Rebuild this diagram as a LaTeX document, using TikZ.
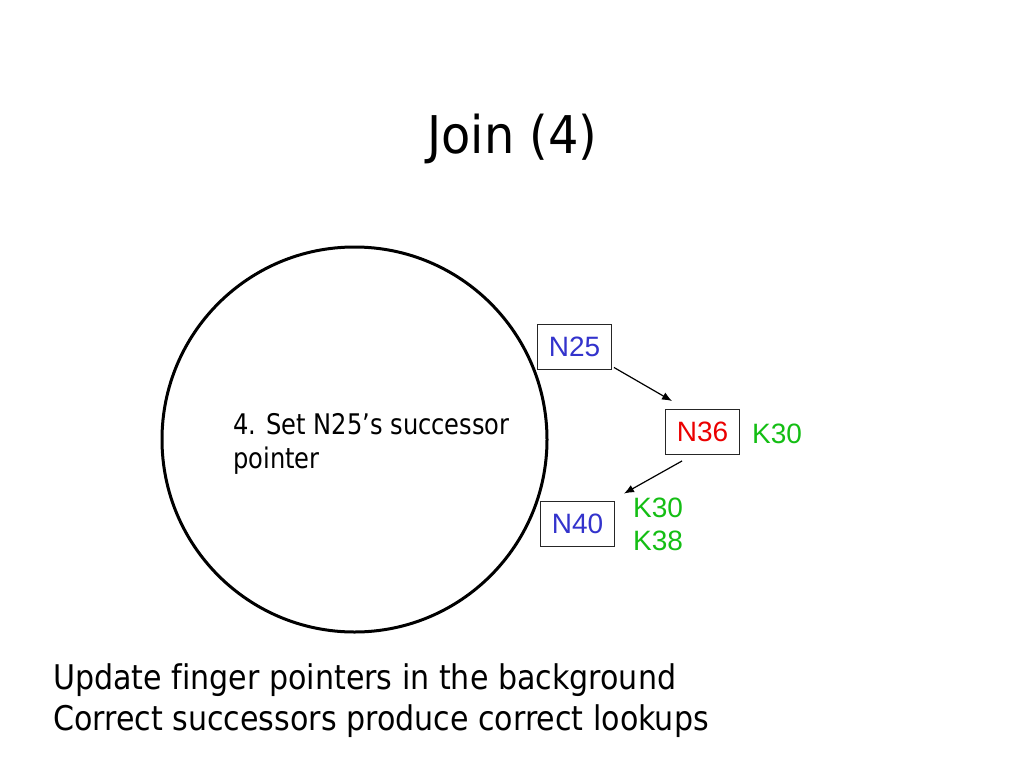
\documentclass[tikz,border=0pt]{standalone}
\usepackage{fontspec}
\usepackage{graphicx}
\setmainfont[Ligatures=NoCommon]{DejaVu Sans}
\newfontfamily\arialfont{Liberation Sans}
\usetikzlibrary{arrows.meta}
\definecolor{nblue}{RGB}{51,51,204}
\definecolor{nred}{RGB}{235,0,0}
\definecolor{kgreen}{RGB}{20,190,20}
\newcommand{\hs}[2]{\scalebox{#1}[1]{#2}}
\tikzset{
  txt/.style={inner sep=0pt, anchor=base west},
  nodebox/.style={draw=black!85, line width=0.9pt, minimum width=74pt, minimum height=45pt, inner sep=0pt, font=\arialfont\fontsize{28}{32}\selectfont},
  keylbl/.style={inner sep=0pt, anchor=base west, text=kgreen, font=\arialfont\fontsize{28}{32}\selectfont},
  link/.style={line width=1.2pt, -{Latex[length=10pt,width=8pt]}}
}
\begin{document}
\begin{tikzpicture}[x=1pt,y=-1pt]
\useasboundingbox (0,0) rectangle (1024,768);
\fill[white] (0,0) rectangle (1024,768);
% title
\node[inner sep=0pt, anchor=base, font=\fontsize{52}{60}\selectfont] (title) at (512.5,153) {\hs{0.92}{Join (4)}};
% ring
\node[draw, circle, line width=3pt, minimum size=385pt, inner sep=0pt] (ring) at (354.5,439.5) {};
% text in ring
\node[txt, font=\fontsize{28.4}{34}\selectfont] (l1) at (233,434) {\hs{0.85}{4. Set N25’s successor}};
\node[txt, font=\fontsize{28.4}{34}\selectfont] (l2) at (233,468) {\hs{0.85}{pointer}};
% nodes
\node[nodebox, text=nblue] (n25) at (574.5,346.5) {N25};
\node[nodebox, text=nred] (n36) at (702.5,432) {N36};
\node[nodebox, text=nblue] (n40) at (577.5,523.5) {N40};
% keys
\node[keylbl] (k36) at (752,443) {K30};
\node[keylbl] (k40a) at (633,517) {K30};
\node[keylbl] (k40b) at (633,550) {K38};
% arrows
\draw[link] ([shift={(2,-2)}]n25.south east) -- ([shift={(7,-8)}]n36.north west);
\draw[link] ([shift={(17,6)}]n36.south west) -- ([shift={(9,-7)}]n40.north east);
% bottom text
\node[txt, font=\fontsize{34}{41}\selectfont] (b1) at (53,689) {\hs{0.885}{Update finger pointers in the background}};
\node[txt, font=\fontsize{34}{41}\selectfont] (b2) at (53,730) {\hs{0.885}{Correct successors produce correct lookups}};
\end{tikzpicture}
\end{document}
